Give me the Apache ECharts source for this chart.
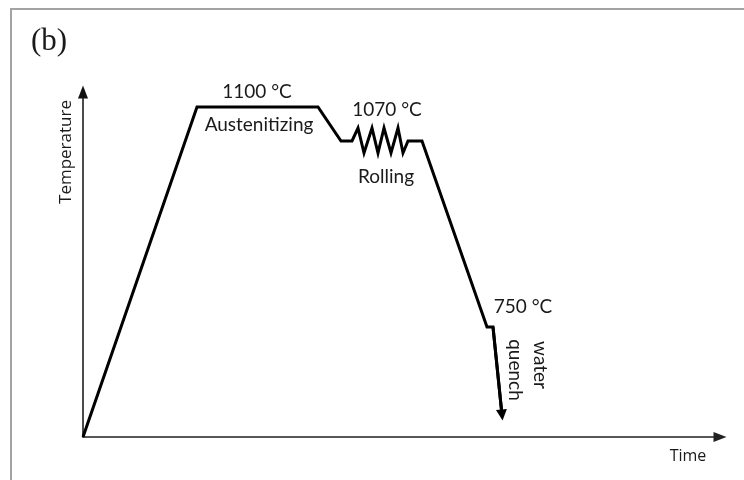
<!DOCTYPE html>
<html>
<head>
<meta charset="utf-8">
<script src="https://cdn.jsdelivr.net/npm/echarts@6/dist/echarts.min.js"></script>
<style>
  html, body { margin: 0; padding: 0; background: #ffffff; }
  #chart { width: 744px; height: 480px; }
</style>
</head>
<body>
<div id="chart"></div>
<script>
// Schematic thermal route: time and temperature in arbitrary schematic units.
const timeSteps = [0, 114, 235, 258, 269, 275, 281, 289, 295, 301, 308, 315, 320, 325, 339, 404, 410, 419];
const tempLevels = [0, 330, 330, 296, 296, 309, 284, 309, 284, 309, 284, 309, 284, 296, 296, 110, 110, 22];

const stageLabels = ['1100 °C', 'Austenitizing', '1070 °C', 'Rolling', '750 °C', 'water', 'quench'];
const axisTitles = ['Temperature', 'Time'];
const panelTag = '(b)';

const profile = timeSteps.map((t, i) => [t, tempLevels[i]]);
const n = profile.length;
const quenchSegment = [profile[n - 2], profile[n - 1]];

const chart = echarts.init(document.getElementById('chart'), null, { renderer: 'canvas' });

const labelFont = 'Lato, "Open Sans", sans-serif';
const txt = (text, x, y, size, rot, family) => ({
  type: 'text',
  x: x, y: y,
  rotation: rot || 0,
  style: {
    text: text,
    fill: '#1a1a1a',
    font: size + 'px ' + (family || labelFont),
    textAlign: 'center',
    textVerticalAlign: 'middle'
  }
});

chart.setOption({
  animation: false,
  backgroundColor: '#ffffff',
  grid: { left: 83, top: 92, right: 24, bottom: 43 },
  xAxis: {
    type: 'value', min: 0, max: 637,
    axisLine: { show: true, onZero: false, symbol: ['none', 'triangle'], symbolSize: [10, 13],
      lineStyle: { color: '#222', width: 1.5 } },
    axisTick: { show: false }, axisLabel: { show: false }, splitLine: { show: false }
  },
  yAxis: {
    type: 'value', min: 0, max: 345,
    axisLine: { show: true, onZero: false, symbol: ['none', 'triangle'], symbolSize: [10, 13],
      lineStyle: { color: '#111', width: 1.5 } },
    axisTick: { show: false }, axisLabel: { show: false }, splitLine: { show: false }
  },
  series: [
    {
      type: 'line',
      data: profile,
      showSymbol: false,
      symbol: 'none',
      lineStyle: { color: '#000', width: 3, join: 'miter' }
    },
    {
      type: 'lines',
      coordinateSystem: 'cartesian2d',
      data: [{ coords: quenchSegment }],
      symbol: ['none', 'triangle'],
      symbolSize: 11,
      lineStyle: { color: '#000', width: 3, opacity: 1 }
    }
  ],
  graphic: [
    { type: 'polyline', shape: { points: [[11, 480], [11, 9], [744, 9]] },
      style: { stroke: '#a3a3a3', lineWidth: 2, fill: null } },
    txt(panelTag, 49, 42, 31, 0, '"Liberation Serif", "DejaVu Serif", serif'),
    txt(stageLabels[0], 257, 92, 19),
    txt(stageLabels[1], 259, 125, 19),
    txt(stageLabels[2], 387, 110, 19),
    txt(stageLabels[3], 386, 177, 19),
    txt(stageLabels[4], 523, 307, 19),
    txt(stageLabels[5], 540, 365, 19, -Math.PI / 2),
    txt(stageLabels[6], 515, 370, 19, -Math.PI / 2),
    txt(axisTitles[0], 66, 152, 17, Math.PI / 2, '"Open Sans", sans-serif'),
    txt(axisTitles[1], 688, 456, 16, 0, '"Open Sans", sans-serif')
  ]
});
</script>
</body>
</html>
